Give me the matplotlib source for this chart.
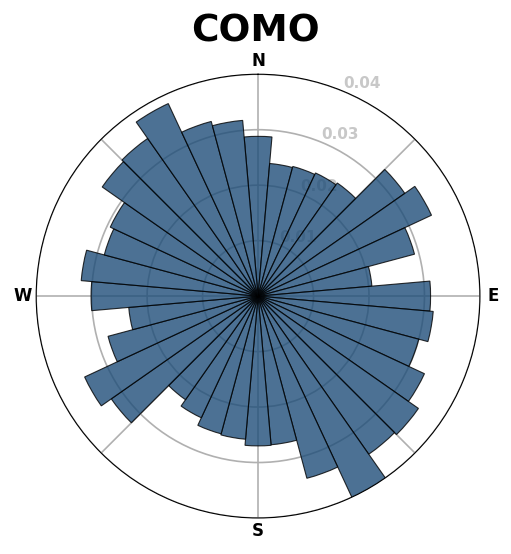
import numpy as np
import matplotlib.pyplot as plt

# Frecuencia relativa por direccion (sectores de 10 grados, desde el norte en sentido horario)
direcciones = np.arange(0, 360, 10)
frecuencias = [0.0288, 0.0240, 0.0242, 0.0245, 0.0249, 0.0323, 0.0345, 0.0292, 0.0206,
               0.0311, 0.0317, 0.0300, 0.0331, 0.0353, 0.0348, 0.0410, 0.0340, 0.0269,
               0.0270, 0.0259, 0.0257, 0.0242, 0.0228, 0.0323, 0.0345, 0.0280, 0.0234,
               0.0301, 0.0320, 0.0287, 0.0294, 0.0343, 0.0347, 0.0383, 0.0326, 0.0318]
etiquetas_rumbo = ['N', '', 'E', '', 'S', '', 'W', '']
ticks_radiales = [0.01, 0.02, 0.03, 0.04]
estacion = 'COMO'

fig = plt.figure(figsize=(5.11, 5.54), dpi=100)
ax = fig.add_axes([0.0705, 0.065, 0.869, 0.801], projection='polar')
ax.set_theta_zero_location('N')
ax.set_theta_direction(-1)

theta = np.deg2rad(direcciones)
ax.bar(theta, frecuencias, width=np.deg2rad(10), color='#1f4e79', alpha=0.8,
       edgecolor='black', linewidth=0.8, zorder=2)

ax.set_ylim(0, 0.04)
ax.set_yticks(ticks_radiales)
ax.set_yticklabels([f'{t:.2f}' for t in ticks_radiales], color='#c8c8c8',
                   fontsize=11, fontweight='bold')
ax.set_rlabel_position(22.5)
ax.set_thetagrids(np.arange(0, 360, 45), etiquetas_rumbo, fontsize=12, fontweight='bold')
ax.tick_params(axis='x', pad=-1)
ax.grid(True, color='#b0b0b0', linewidth=1.2)
ax.set_axisbelow(True)

fig.suptitle(estacion, fontsize=27, fontweight='bold', y=0.975)
fig.savefig('out.png', dpi=100)
